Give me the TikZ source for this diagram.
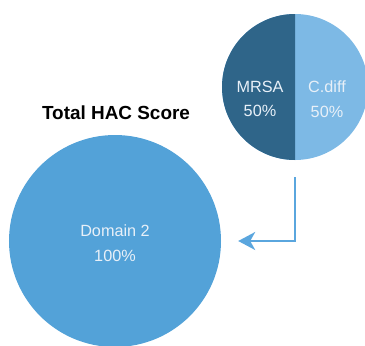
\documentclass[tikz,border=0pt]{standalone}
\usepackage{fontspec}
\setmainfont{Liberation Sans}
\usetikzlibrary{arrows.meta}
\definecolor{mrsablue}{HTML}{2F6589}
\definecolor{cdiffblue}{HTML}{7DB9E5}
\definecolor{domblue}{HTML}{53A2D8}
\definecolor{arrblue}{HTML}{5AA6DE}
\definecolor{labwhite}{HTML}{E8F0F8}

\begin{document}
\begin{tikzpicture}[x=1bp, y=-1bp,
    disc/.style={circle, inner sep=0pt, draw=none},
    slicelab/.style={
      text=labwhite, align=center, inner sep=0pt,
      font=\fontsize{16.3}{24.5}\selectfont
    },
    titlelab/.style={font=\fontsize{19}{22}\selectfont\bfseries, inner sep=0pt},
    arr/.style={-{Stealth[length=17bp, width=18bp, inset=5bp]}, line width=2bp, arrblue},
  ]
    \useasboundingbox (0,0) rectangle (365,346);

    % small pie: two infections, half each
    \node[disc, fill=cdiffblue, minimum size=146bp] (pie) at (295,87) {};
    \begin{scope}
      \clip (pie.west |- pie.north) rectangle (pie.south);
      \fill[mrsablue] (pie.center) circle[radius=73];
    \end{scope}
    \node[slicelab] (mrsa) at (260,99) {MRSA\\50\%};
    \node[slicelab] (cdiff) at (327,99) {C.diff\\50\%};

    \node[titlelab] (title) at (116,113) {Total HAC Score};

    % big pie: one domain only
    \node[disc, fill=domblue, minimum size=212bp] (dom) at (115,241) {};
    \node[slicelab] (domlab) at (115,243) {Domain 2\\100\%};

    \draw[arr] ([yshift=-17bp]pie.south) |- ([xshift=17bp]dom.east);
  \end{tikzpicture}
\end{document}
